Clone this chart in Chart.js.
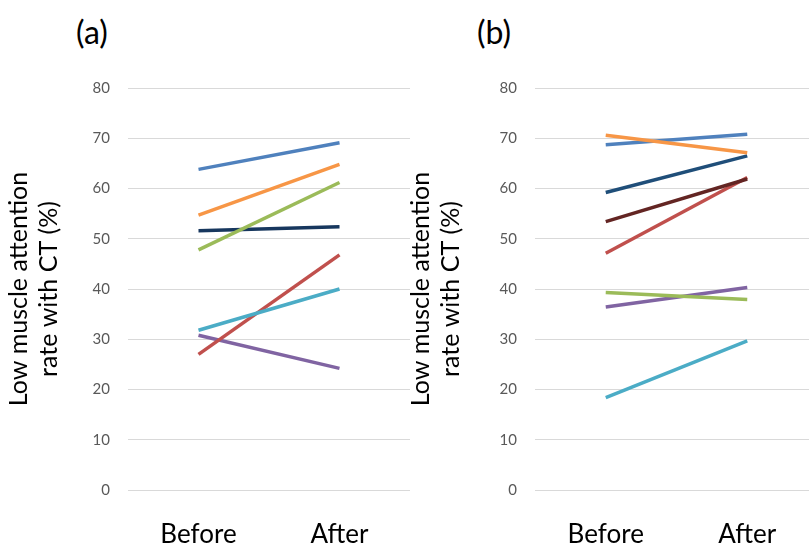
<!DOCTYPE html>
<html>
<head>
<meta charset="utf-8">
<script src="https://cdn.jsdelivr.net/npm/chart.js@4"></script>
<style>
  body { margin: 0; background: #fff; width: 809px; height: 549px; overflow: hidden; position: relative; font-family: Lato, sans-serif; }
  canvas { position: absolute; top: 0; }
  .panel { position: absolute; top: 12px; width: 70px; line-height: 40px; text-align: center; font-size: 32px; color: #000; }
</style>
</head>
<body>
<div class="panel" style="left:57px">(a)</div>
<div class="panel" style="left:459px">(b)</div>
<canvas id="chartA" width="420" height="549" style="left:0"></canvas>
<canvas id="chartB" width="420" height="549" style="left:400px"></canvas>
<script>
    const labels = ['Before', 'After'];
    const axisTitle = ['Low muscle attention', 'rate with CT (%)'];

// panel (a)
    const aBlue = [63.8, 69.1];
    const aOrange = [54.7, 64.8];
    const aGreen = [47.8, 61.2];
    const aNavy = [51.6, 52.4];
    const aCyan = [31.8, 40.0];
    const aRed = [27.0, 46.8];
    const aPurple = [30.8, 24.2];

// panel (b)
    const bOrange = [70.6, 67.1];
    const bBlue = [68.7, 70.8];
    const bNavy = [59.2, 66.5];
    const bMaroon = [53.4, 61.9];
    const bRed = [47.1, 62.2];
    const bGreen = [39.3, 37.9];
    const bPurple = [36.4, 40.3];
    const bCyan = [18.4, 29.7];

// office-ish colors
    const COLORS = {
      blue: '#4F81BD',
      orange: '#F79646',
      green: '#9BBB59',
      navy: '#17375E',
      navyB: '#1F4E79',
      cyan: '#4BACC6',
      red: '#C0504D',
      purple: '#8064A2',
      maroon: '#632523'
    };

    function line(values, color) {
      return {
        data: values,
        borderColor: color,
        backgroundColor: color,
        borderWidth: 3.5,
        pointRadius: 0,
        tension: 0
      };
    }

    function makeConfig(datasets, yWidth, rightPad, titlePad) {
      return {
        type: 'line',
        data: { labels: labels, datasets: datasets },
        options: {
          responsive: false,
          animation: false,
          layout: { padding: { top: 88, right: rightPad, left: 0, bottom: 0 } },
          plugins: {
            legend: { display: false },
            tooltip: { enabled: false }
          },
          scales: {
            x: {
              offset: true,
              grid: { display: false },
              border: { display: false },
              ticks: { color: '#000', font: { family: 'Lato', size: 26, lineHeight: 1.2 }, padding: 21 },
              afterFit: (scale) => { scale.height = 59; }
            },
            y: {
              min: 0,
              max: 80,
              grid: { color: '#d9d9d9', drawTicks: false },
              border: { display: false },
              ticks: { stepSize: 10, color: '#595959', font: { family: 'Lato', size: 15 }, padding: 18 },
              title: {
                display: true,
                text: axisTitle,
                color: '#000',
                font: { family: 'Lato', size: 25, lineHeight: 1.2 },
                padding: { top: titlePad, bottom: 0 }
              },
              afterFit: (scale) => { scale.width = yWidth; }
            }
          }
        }
      };
    }

    const chartA = new Chart(document.getElementById('chartA'), makeConfig([
      line(aBlue, COLORS.blue),
      line(aOrange, COLORS.orange),
      line(aGreen, COLORS.green),
      line(aNavy, COLORS.navy),
      line(aCyan, COLORS.cyan),
      line(aRed, COLORS.red),
      line(aPurple, COLORS.purple)
    ], 128, 10, 4));

    const chartB = new Chart(document.getElementById('chartB'), makeConfig([
      line(bOrange, COLORS.orange),
      line(bBlue, COLORS.blue),
      line(bNavy, COLORS.navyB),
      line(bMaroon, COLORS.maroon),
      line(bRed, COLORS.red),
      line(bGreen, COLORS.green),
      line(bPurple, COLORS.purple),
      line(bCyan, COLORS.cyan)
    ], 135, 2, 6));
</script>
</body>
</html>
